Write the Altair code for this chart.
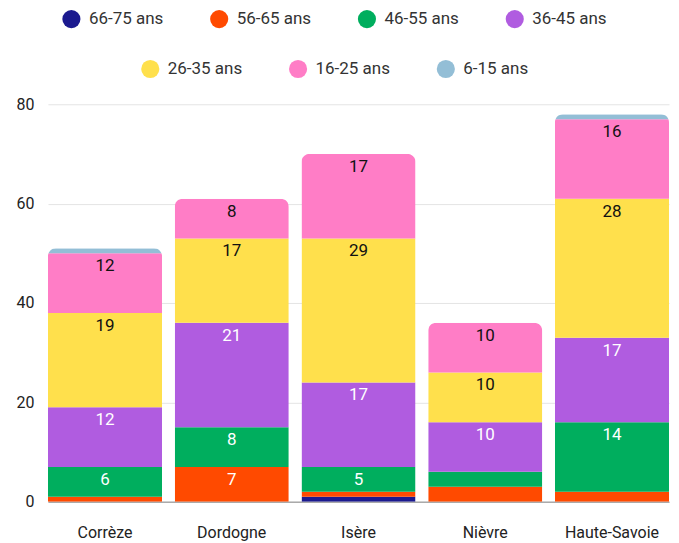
import altair as alt
import pandas as pd

depts = ["Corrèze", "Dordogne", "Isère", "Nièvre", "Haute-Savoie"]
ages = ["66-75 ans", "56-65 ans", "46-55 ans", "36-45 ans", "26-35 ans", "16-25 ans", "6-15 ans"]
colors = ["#1b1a8f", "#ff4a00", "#00ae5e", "#b05ce0", "#ffe04c", "#ff7dc6", "#93bed6"]

a66_75 = [0, 0, 1, 0, 0]
a56_65 = [1, 7, 1, 3, 2]
a46_55 = [6, 8, 5, 3, 14]
a36_45 = [12, 21, 17, 10, 17]
a26_35 = [19, 17, 29, 10, 28]
a16_25 = [12, 8, 17, 10, 16]
a6_15 = [1, 0, 0, 0, 1]

series = [a66_75, a56_65, a46_55, a36_45, a26_35, a16_25, a6_15]
rows = []
for i, (age, vals) in enumerate(zip(ages, series)):
    for d, v in zip(depts, vals):
        if v > 0:
            rows.append({"dept": d, "age": age, "idx": i, "value": v})
df = pd.DataFrame(rows)

FONT = "Roboto"
x_enc = alt.X("dept:N", sort=depts, title=None,
              scale=alt.Scale(paddingInner=0.1, paddingOuter=0),
              axis=alt.Axis(labelAngle=0, labelFontSize=16, labelColor="#222", labelFont=FONT,
                            ticks=False, tickSize=0, labelPadding=23, domainColor="#aaaaaa",
                            domainWidth=1.5))
y_enc = alt.Y("value:Q", stack="zero", title=None,
              scale=alt.Scale(domain=[0, 80]),
              axis=alt.Axis(values=[0, 20, 40, 60, 80], labelFontSize=16, labelColor="#222",
                            labelFont=FONT, ticks=False, tickSize=0, domain=False,
                            labelPadding=14, gridColor="#e4e4e4"))
order_enc = alt.Order("idx:Q", sort="ascending")

base = alt.Chart(df)

def legend_layer(sub_ages, sub_colors, lx, ly):
    return base.transform_filter(
        alt.FieldOneOfPredicate(field="age", oneOf=sub_ages)
    ).mark_bar(opacity=0).encode(
        x=x_enc, y=y_enc, order=order_enc,
        color=alt.Color("age:N", sort=sub_ages,
                        scale=alt.Scale(domain=sub_ages, range=sub_colors),
                        legend=alt.Legend(title=None, orient="none", legendX=lx, legendY=ly,
                                          direction="horizontal", symbolType="circle",
                                          symbolSize=330, symbolOpacity=1, symbolStrokeWidth=0,
                                          labelFontSize=17, labelColor="#333", labelFont=FONT,
                                          labelOffset=8, columnPadding=46)),
    )

leg1 = legend_layer(ages[:4], colors[:4], 14, -95)
leg2 = legend_layer(ages[4:], colors[4:], 93, -45)

bars = base.mark_bar(cornerRadiusTopLeft=8, cornerRadiusTopRight=8).encode(
    x=x_enc, y=y_enc, order=order_enc,
    color=alt.Color("age:N", sort=ages, scale=alt.Scale(domain=ages, range=colors), legend=None),
)

text = base.transform_stack(
    stack="value", as_=["y0", "y1"], groupby=["dept"], sort=[alt.SortField("idx", order="ascending")]
).transform_filter(alt.datum.value >= 5).mark_text(
    baseline="top", dy=5, fontSize=17, font=FONT
).encode(
    x=alt.X("dept:N", sort=depts),
    y=alt.Y("y1:Q"),
    text=alt.Text("value:Q"),
    color=alt.condition(alt.FieldOneOfPredicate(field="age", oneOf=ages[:4]),
                        alt.value("white"), alt.value("#111")),
)

chart = alt.layer(leg1, leg2, bars, text).resolve_scale(color="independent").properties(
    width=622, height=398, padding={"left": 8, "top": 1, "right": 2, "bottom": 2}
).configure_view(stroke=None)

chart.save("out.html", embed_options={"renderer": "svg", "actions": False})
